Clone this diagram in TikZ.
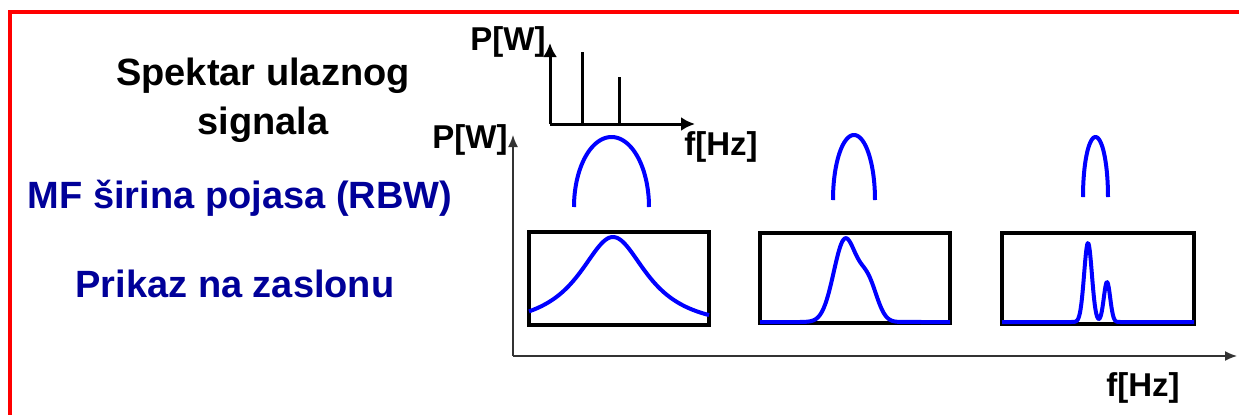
\documentclass[tikz,border=0pt]{standalone}
\usepackage{fontspec}
\setmainfont{Liberation Sans}
\usepackage{tikz}
\usetikzlibrary{arrows.meta, positioning, calc}
\definecolor{textblue}{RGB}{0,0,153}

\begin{document}
\begin{tikzpicture}[
    x=0.5pt, y=-0.5pt,
    >={Latex[length=7pt,width=7pt]},
    txt/.style={font=\bfseries\fontsize{19}{24.5}\selectfont, inner sep=0pt, align=center},
    unit/.style={font=\bfseries\fontsize{16.5}{18}\selectfont, inner sep=0pt},
    axis/.style={line width=1.5pt, ->},
    bigaxis/.style={line width=0.75pt, black!80, -{Latex[length=6pt,width=5pt]}},
    tone/.style={line width=1.5pt},
    rbw/.style={blue, line width=2pt},
    screen/.style={rectangle, draw, line width=2pt, inner sep=0pt},
    trace/.style={blue, line width=2pt, line join=round}
]
\useasboundingbox (0,0) rectangle (1239,414);

% Frame
\draw[red, line width=2pt] (10,430) -- (10,12) -- (1260,12);

% Texts on the left
\node[txt] (spektar) at (263,100) {Spektar ulaznog\\signala};
\node[txt, text=textblue, anchor=base] (mf) at (240,208) {MF širina pojasa (RBW)};
\node[txt, text=textblue, anchor=base] (prikaz) at (235,297) {Prikaz na zaslonu};

% Input spectrum
\coordinate (o1) at (550,124);
\coordinate (y1) at (550,43);
\coordinate (x1) at (695,124);
\draw[axis] (o1) -- (y1);
\draw[axis] (o1) -- (x1);
\draw[tone] (582,124) -- (582,52);
\draw[tone] (619,124) -- (619,77);
\node[unit, anchor=east] (pw1) at (546,42) {P[W]};
\node[unit, anchor=west] (hz1) at (684,147) {f[Hz]};

% Display axes
\coordinate (o2) at (513,356);
\coordinate (y2) at (513,135);
\coordinate (x2) at (1237,356);
\draw[bigaxis] (o2) -- (y2);
\draw[bigaxis] (o2) -- (x2);
\node[unit, anchor=east] (pw2) at (508,140) {P[W]};
\node[unit, anchor=west] (hz2) at (1106,388) {f[Hz]};

% RBW filters
\draw[rbw] plot[domain=180:360, samples=60] ({611.5+37.5*cos(\x)}, {207+70*sin(\x)});
\draw[rbw] plot[domain=180:360, samples=60] ({854+21*cos(\x)}, {200+65*sin(\x)});
\draw[rbw] plot[domain=180:360, samples=60] ({1095.5+12.5*cos(\x)}, {197+60*sin(\x)});

% Screens
\node[screen, minimum width=90pt, minimum height=46.5pt] (scr1) at (619,278.5) {};
\node[screen, minimum width=95pt, minimum height=45pt] (scr2) at (855,278) {};
\node[screen, minimum width=96pt, minimum height=45.5pt] (scr3) at (1098,278.5) {};

% Traces
\draw[trace] plot[domain=529:709, samples=100] (\x, {330-93/(1+((\x-613)/42)^2)});
\draw[trace] (760,322) -- (800,322)
    -- plot[domain=800:905, samples=100] (\x, {322-82*exp(-((\x-845)/16)^2)-38*exp(-((\x-868)/13)^2)})
    -- (950,322);
\draw[trace] (1002,322) -- (1065,322)
    -- plot[domain=1065:1125, samples=120] (\x, {322-79*exp(-((\x-1088)/5.5)^2)-40*exp(-((\x-1107)/4.5)^2)})
    -- (1194,322);

\end{tikzpicture}
\end{document}
